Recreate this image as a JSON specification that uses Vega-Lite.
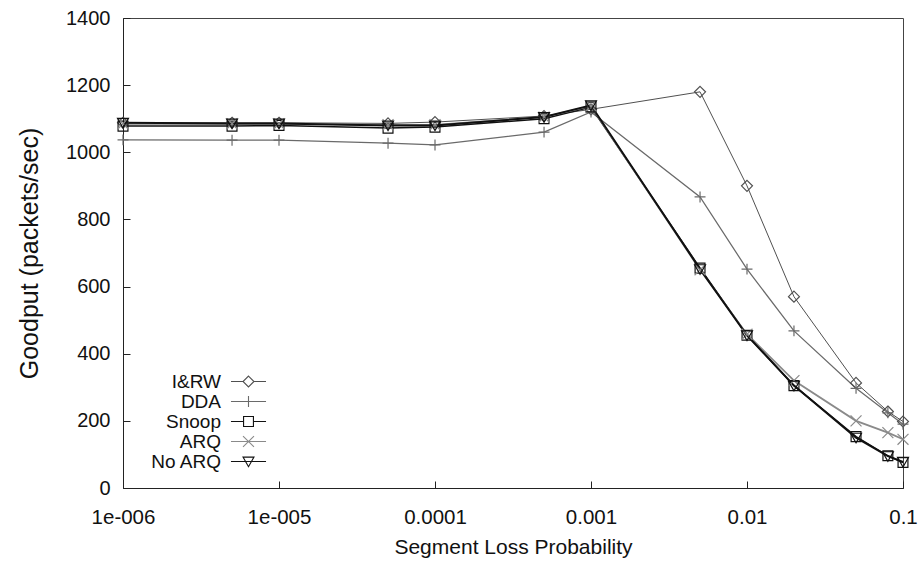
{
  "$schema": "https://vega.github.io/schema/vega-lite/v6.json",
  "autosize": "none",
  "width": 780,
  "height": 470,
  "padding": {"left": 123, "top": 18, "right": 18, "bottom": 73},
  "background": "white",
  "config": {
    "font": "Liberation Sans",
    "view": {"stroke": "#444", "strokeWidth": 1},
    "axis": {"grid": false, "domainColor": "#222", "tickColor": "#222", "tickWidth": 1, "labelColor": "#111", "titleColor": "#111", "labelFont": "Liberation Sans", "titleFont": "Liberation Sans", "titleFontWeight": "normal"}
  },
  "data": {"values": [
    {"p": 0.000001, "goodput": 1088, "series": "I&RW"},
    {"p": 0.000005, "goodput": 1088, "series": "I&RW"},
    {"p": 0.00001, "goodput": 1088, "series": "I&RW"},
    {"p": 0.00005, "goodput": 1086, "series": "I&RW"},
    {"p": 0.0001, "goodput": 1090, "series": "I&RW"},
    {"p": 0.0005, "goodput": 1108, "series": "I&RW"},
    {"p": 0.001, "goodput": 1128, "series": "I&RW"},
    {"p": 0.005, "goodput": 1180, "series": "I&RW"},
    {"p": 0.01, "goodput": 900, "series": "I&RW"},
    {"p": 0.02, "goodput": 570, "series": "I&RW"},
    {"p": 0.05, "goodput": 313, "series": "I&RW"},
    {"p": 0.08, "goodput": 228, "series": "I&RW"},
    {"p": 0.1, "goodput": 198, "series": "I&RW"},
    {"p": 0.000001, "goodput": 1037, "series": "DDA"},
    {"p": 0.000005, "goodput": 1036, "series": "DDA"},
    {"p": 0.00001, "goodput": 1036, "series": "DDA"},
    {"p": 0.00005, "goodput": 1027, "series": "DDA"},
    {"p": 0.0001, "goodput": 1022, "series": "DDA"},
    {"p": 0.0005, "goodput": 1060, "series": "DDA"},
    {"p": 0.001, "goodput": 1120, "series": "DDA"},
    {"p": 0.005, "goodput": 867, "series": "DDA"},
    {"p": 0.01, "goodput": 652, "series": "DDA"},
    {"p": 0.02, "goodput": 468, "series": "DDA"},
    {"p": 0.05, "goodput": 297, "series": "DDA"},
    {"p": 0.08, "goodput": 224, "series": "DDA"},
    {"p": 0.1, "goodput": 190, "series": "DDA"},
    {"p": 0.000001, "goodput": 1078, "series": "Snoop"},
    {"p": 0.000005, "goodput": 1078, "series": "Snoop"},
    {"p": 0.00001, "goodput": 1080, "series": "Snoop"},
    {"p": 0.00005, "goodput": 1072, "series": "Snoop"},
    {"p": 0.0001, "goodput": 1075, "series": "Snoop"},
    {"p": 0.0005, "goodput": 1100, "series": "Snoop"},
    {"p": 0.001, "goodput": 1135, "series": "Snoop"},
    {"p": 0.005, "goodput": 655, "series": "Snoop"},
    {"p": 0.01, "goodput": 455, "series": "Snoop"},
    {"p": 0.02, "goodput": 305, "series": "Snoop"},
    {"p": 0.05, "goodput": 153, "series": "Snoop"},
    {"p": 0.08, "goodput": 96, "series": "Snoop"},
    {"p": 0.1, "goodput": 76, "series": "Snoop"},
    {"p": 0.000001, "goodput": 1085, "series": "ARQ"},
    {"p": 0.000005, "goodput": 1085, "series": "ARQ"},
    {"p": 0.00001, "goodput": 1085, "series": "ARQ"},
    {"p": 0.00005, "goodput": 1082, "series": "ARQ"},
    {"p": 0.0001, "goodput": 1082, "series": "ARQ"},
    {"p": 0.0005, "goodput": 1105, "series": "ARQ"},
    {"p": 0.001, "goodput": 1138, "series": "ARQ"},
    {"p": 0.005, "goodput": 650, "series": "ARQ"},
    {"p": 0.01, "goodput": 458, "series": "ARQ"},
    {"p": 0.02, "goodput": 320, "series": "ARQ"},
    {"p": 0.05, "goodput": 200, "series": "ARQ"},
    {"p": 0.08, "goodput": 165, "series": "ARQ"},
    {"p": 0.1, "goodput": 145, "series": "ARQ"},
    {"p": 0.000001, "goodput": 1088, "series": "No ARQ"},
    {"p": 0.000005, "goodput": 1086, "series": "No ARQ"},
    {"p": 0.00001, "goodput": 1086, "series": "No ARQ"},
    {"p": 0.00005, "goodput": 1080, "series": "No ARQ"},
    {"p": 0.0001, "goodput": 1080, "series": "No ARQ"},
    {"p": 0.0005, "goodput": 1105, "series": "No ARQ"},
    {"p": 0.001, "goodput": 1140, "series": "No ARQ"},
    {"p": 0.005, "goodput": 652, "series": "No ARQ"},
    {"p": 0.01, "goodput": 455, "series": "No ARQ"},
    {"p": 0.02, "goodput": 305, "series": "No ARQ"},
    {"p": 0.05, "goodput": 150, "series": "No ARQ"},
    {"p": 0.08, "goodput": 95, "series": "No ARQ"},
    {"p": 0.1, "goodput": 78, "series": "No ARQ"}
  ]},
  "encoding": {
    "x": {"field": "p", "type": "quantitative",
      "scale": {"type": "log", "domain": [0.000001, 0.1], "nice": false},
      "axis": {"title": "Segment Loss Probability", "titleFontSize": 21, "titlePadding": 9, "labelFontSize": 20.5, "labelPadding": 26, "tickSize": -7, "values": [0.000001, 0.00001, 0.0001, 0.001, 0.01, 0.1],
        "labelExpr": "datum.value < 0.000002 ? '1e-006' : datum.value < 0.00002 ? '1e-005' : datum.value < 0.0002 ? '0.0001' : datum.value < 0.002 ? '0.001' : datum.value < 0.02 ? '0.01' : '0.1'", "labelFlush": false}},
    "y": {"field": "goodput", "type": "quantitative",
      "scale": {"domain": [0, 1400], "nice": false},
      "axis": {"title": "Goodput (packets/sec)", "titleFontSize": 25, "titlePadding": 23, "labelFontSize": 20, "labelPadding": 20, "tickSize": -7, "format": "d", "values": [0, 200, 400, 600, 800, 1000, 1200, 1400]}}
  },
  "layer": [
    {"mark": {"type": "line", "clip": false},
     "encoding": {
       "stroke": {"field": "series", "type": "nominal", "legend": null,
         "scale": {"domain": ["No ARQ", "ARQ", "Snoop", "DDA", "I&RW"], "range": ["#111111", "#8a8a8a", "#111111", "#6a6a6a", "#505050"]}},
       "strokeWidth": {"field": "series", "type": "nominal", "legend": null,
         "scale": {"domain": ["No ARQ", "ARQ", "Snoop", "DDA", "I&RW"], "range": [2, 1, 2, 1, 1.2]}}
     }},
    {"mark": {"type": "point", "filled": false, "size": 120, "strokeWidth": 1.2, "opacity": 1, "clip": false},
     "encoding": {
       "color": {"field": "series", "type": "nominal",
         "scale": {"domain": ["I&RW", "DDA", "Snoop", "ARQ", "No ARQ"], "range": ["#505050", "#6a6a6a", "#111111", "#8a8a8a", "#111111"]}},
       "shape": {"condition": [
           {"test": "datum.series === 'I&RW'", "value": "M0,-1L1,0L0,1L-1,0Z"},
           {"test": "datum.series === 'DDA'", "value": "M-1,0H1M0,-1V1"},
           {"test": "datum.series === 'Snoop'", "value": "M-0.9,-0.9H0.9V0.9H-0.9Z"},
           {"test": "datum.series === 'ARQ'", "value": "M-1,-1L1,1M-1,1L1,-1"}
         ],
         "value": "M-1,-0.8L1,-0.8L0,0.95Z"}
     }},
    {"mark": {"type": "point", "filled": false, "size": 0, "strokeWidth": 1.2, "opacity": 1, "clip": false},
     "encoding": {
       "color": {"field": "series", "type": "nominal",
         "scale": {"domain": ["I&RW", "DDA", "Snoop", "ARQ", "No ARQ"], "range": ["#505050", "#6a6a6a", "#111111", "#8a8a8a", "#111111"]},
         "legend": {"title": null, "orient": "none", "legendX": 116, "legendY": 354}},
       "shape": {"field": "series", "type": "nominal",
         "scale": {"domain": ["I&RW", "DDA", "Snoop", "ARQ", "No ARQ"],
           "range": ["M-3.2,0H-1M1,0H3.2M0,-1L1,0L0,1L-1,0Z", "M-3.2,0H3.2M0,-1V1", "M-3.2,0H-0.9M0.9,0H3.2M-0.9,-0.9H0.9V0.9H-0.9Z", "M-3.2,0H3.2M-1,-1L1,1M-1,1L1,-1", "M-3.2,0H3.2M-1,-0.8L1,-0.8L0,0.95Z"]},
         "legend": {
           "title": null, "orient": "none", "legendX": 116, "legendY": 354,
           "padding": 0, "symbolSize": 120, "symbolOpacity": 1, "labelFontSize": 19, "labelFont": "Liberation Sans", "labelAlign": "right", "labelOffset": -37,
           "rowPadding": 0, "symbolStrokeWidth": 1.1, "labelColor": "#111"
         }}
     }}
  ]
}
